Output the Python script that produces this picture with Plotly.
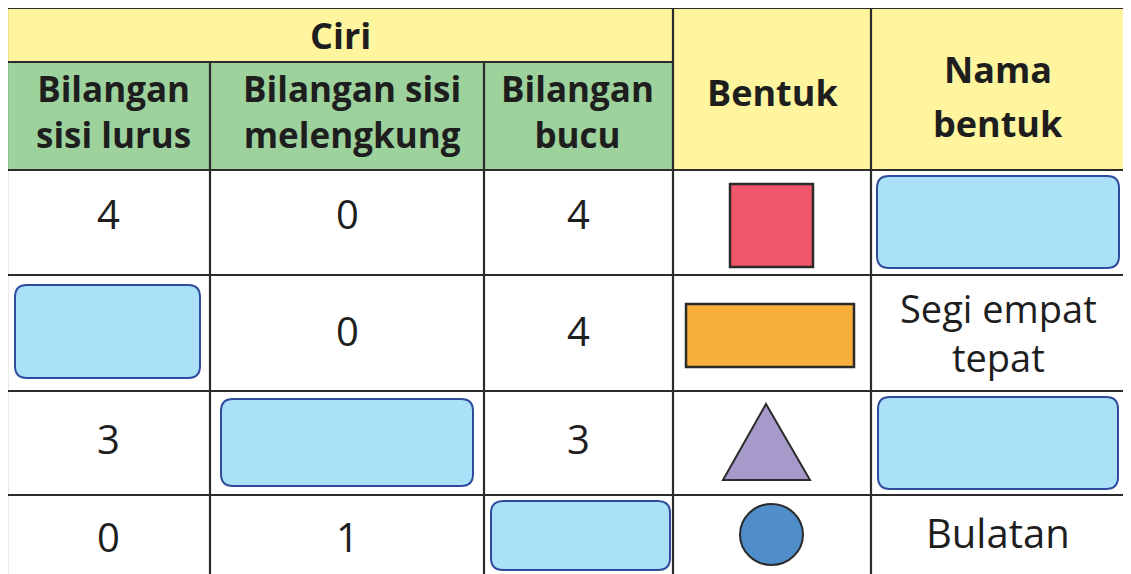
import plotly.graph_objects as go

# ---------------- data ----------------
group_header = "Ciri"
sub_headers = [["Bilangan", "sisi lurus"], ["Bilangan sisi", "melengkung"], ["Bilangan", "bucu"]]
shape_header = ["Bentuk"]
name_header = ["Nama", "bentuk"]

sisi_lurus = ["4", None, "3", "0"]
sisi_melengkung = ["0", "0", None, "1"]
bucu = ["4", "4", "3", None]
bentuk = ["square", "rectangle", "triangle", "circle"]
nama_bentuk = [None, ["Segi empat", "tepat"], None, ["Bulatan"]]

# ---------------- layout geometry (page pixels) ----------------
W, H = 1131, 574
OFF = 8  # default page body margin
col_x = [7, 210, 484, 673, 871, 1125]
row_y = [8, 62, 170, 275, 391, 495, 600]
FONT = "Open Sans"
LINE = "#2b2b2b"
YELLOW = "#FFF59E"
GREEN = "#9DD29C"
BOX_FILL = "#ABE0F9"
BOX_LINE = "#2E4C9C"

# answer boxes for empty cells: (col, row) -> (x0, y0, x1, y1)
box_geom = {
    (0, 1): (15, 285, 200, 378),
    (1, 2): (221, 399, 473, 486),
    (2, 3): (491, 501, 670, 570),
    (4, 0): (877, 176, 1119, 268),
    (4, 2): (878, 397, 1118, 489),
}
shape_geom = {
    "square": dict(type="rect", x0=730, y0=184, x1=813, y1=267, fill="#F1566A"),
    "rectangle": dict(type="rect", x0=686, y0=304, x1=854, y1=367, fill="#F8AE3A"),
    "triangle": dict(type="tri", pts=[(766, 404), (810, 480), (723, 480)], fill="#A69ACB"),
    "circle": dict(type="circle", x0=740, y0=504, x1=803, y1=565, fill="#4F8DCB"),
}
row_text_y = [213, 330, 438, 536]
sub_text_y = 111
name_text_y = {1: 332, 3: 532}

shapes = []
annotations = []


def rect(x0, y0, x1, y1, fill, line=None, width=0, layer="below"):
    shapes.append(dict(type="rect", xref="x", yref="y", x0=x0, y0=y0, x1=x1, y1=y1,
                       fillcolor=fill, line=dict(color=line or fill, width=width), layer=layer))


def seg(x0, y0, x1, y1, w=2.2):
    shapes.append(dict(type="line", xref="x", yref="y", x0=x0, y0=y0, x1=x1, y1=y1,
                       line=dict(color=LINE, width=w), layer="above"))


def rounded(x0, y0, x1, y1, r=12):
    p = (f"M {x0+r},{y0} L {x1-r},{y0} Q {x1},{y0} {x1},{y0+r} "
         f"L {x1},{y1-r} Q {x1},{y1} {x1-r},{y1} L {x0+r},{y1} "
         f"Q {x0},{y1} {x0},{y1-r} L {x0},{y0+r} Q {x0},{y0} {x0+r},{y0} Z")
    shapes.append(dict(type="path", xref="x", yref="y", path=p, fillcolor=BOX_FILL,
                       line=dict(color=BOX_LINE, width=2), layer="above"))


def text(x, y, s, size, bold=False):
    annotations.append(dict(x=x, y=y, xref="x", yref="y", text=f"<b>{s}</b>" if bold else s,
                            showarrow=False, xanchor="center", yanchor="middle", align="center",
                            font=dict(family=FONT, size=size, color="#1e1e1e")))


# header backgrounds
rect(col_x[0], row_y[0], col_x[3], row_y[1], YELLOW)
rect(col_x[0], row_y[1], col_x[3], row_y[2], GREEN)
rect(col_x[3], row_y[0], col_x[5], row_y[2], YELLOW)

# grid lines
seg(col_x[0], row_y[0], col_x[5], row_y[0])
seg(col_x[0], row_y[1], col_x[3], row_y[1])
for ry in row_y[2:6]:
    seg(col_x[0], ry, col_x[5], ry)
seg(col_x[0], row_y[0], col_x[0], H + 5)
for cx in col_x[1:3]:
    seg(cx, row_y[1], cx, H + 5)
for cx in col_x[3:6]:
    seg(cx, row_y[0], cx, H + 5)

# header texts
HS = 36
text((col_x[0] + col_x[3]) / 2, 35, group_header, HS, bold=True)
sub_cx = [113, 352, 577]
for cx, lines in zip(sub_cx, sub_headers):
    text(cx, sub_text_y, "<br>".join(f"<b>{s}</b>" for s in lines), 35)
text((col_x[3] + col_x[4]) / 2, 92, shape_header[0], HS, bold=True)
for ly, s in zip([69, 123], name_header):
    text((col_x[4] + col_x[5]) / 2, ly, s, HS, bold=True)

# body
DS = 40
for ci, col in enumerate([sisi_lurus, sisi_melengkung, bucu]):
    cx = (col_x[ci] + col_x[ci + 1]) / 2
    for ri, v in enumerate(col):
        if v is None:
            rounded(*box_geom[(ci, ri)])
        else:
            text(cx, row_text_y[ri], v, DS)

for ri, kind in enumerate(bentuk):
    g = shape_geom[kind]
    if g["type"] == "rect":
        shapes.append(dict(type="rect", xref="x", yref="y", x0=g["x0"], y0=g["y0"], x1=g["x1"], y1=g["y1"],
                           fillcolor=g["fill"], line=dict(color=LINE, width=2.5), layer="above"))
    elif g["type"] == "circle":
        shapes.append(dict(type="circle", xref="x", yref="y", x0=g["x0"], y0=g["y0"], x1=g["x1"], y1=g["y1"],
                           fillcolor=g["fill"], line=dict(color=LINE, width=2), layer="above"))
    else:
        pts = g["pts"]
        p = "M " + " L ".join(f"{x},{y}" for x, y in pts) + " Z"
        shapes.append(dict(type="path", xref="x", yref="y", path=p, fillcolor=g["fill"],
                           line=dict(color=LINE, width=2), layer="above"))

ncx = (col_x[4] + col_x[5]) / 2
for ri, nm in enumerate(nama_bentuk):
    if nm is None:
        rounded(*box_geom[(4, ri)])
    else:
        text(ncx, name_text_y[ri], "<br>".join(nm), 38 if len(nm) > 1 else DS)

fig = go.Figure()
fig.update_layout(
    width=W, height=H, margin=dict(l=0, r=0, t=0, b=0),
    paper_bgcolor="white", plot_bgcolor="white",
    xaxis=dict(range=[OFF, W + OFF], visible=False, fixedrange=True),
    yaxis=dict(range=[H + OFF, OFF], visible=False, fixedrange=True),
    shapes=shapes, annotations=annotations, showlegend=False,
)
fig.write_html("out.html", config={"displayModeBar": False})
